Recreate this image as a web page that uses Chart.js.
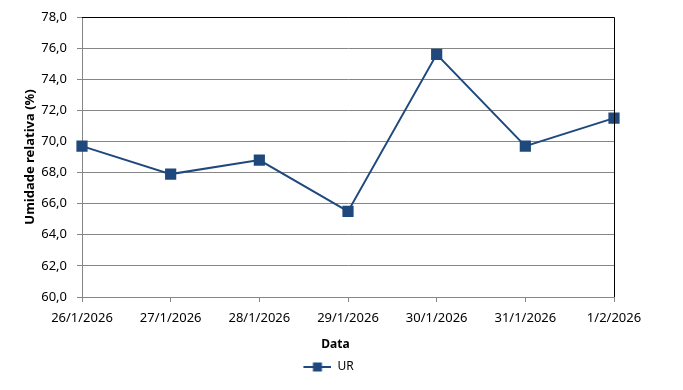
<!DOCTYPE html>
<html>
<head>
    <meta charset="utf-8">
    <style>
        body { margin: 0; background: #fff; }
        #chartContainer { width: 683px; height: 390px; }
    </style>
</head>
<body>
    <div id="chartContainer">
        <canvas id="myChart" width="683" height="390"></canvas>
    </div>

<script src="https://cdn.jsdelivr.net/npm/chart.js@4.4.0/dist/chart.umd.min.js"></script>
<script>
    // data
    var dates = ['26/1/2026', '27/1/2026', '28/1/2026', '29/1/2026', '30/1/2026', '31/1/2026', '1/2/2026'];
    var urValues = [69.7, 67.9, 68.8, 65.5, 75.6, 69.7, 71.5];
    var yTicks = [60, 62, 64, 66, 68, 70, 72, 74, 76, 78];

    var lineColor = '#1F497D';
    var gridColor = '#868686';

    // legend symbol: short line with a square in the middle
    // (left part transparent so the legend sits where the original one does)
    var legendIcon = document.createElement('canvas');
    legendIcon.width = 53;
    legendIcon.height = 10;
    var ic = legendIcon.getContext('2d');
    ic.strokeStyle = lineColor;
    ic.lineWidth = 2;
    ic.beginPath();
    ic.moveTo(25, 5);
    ic.lineTo(53, 5);
    ic.stroke();
    ic.fillStyle = lineColor;
    ic.fillRect(34.5, 0.5, 9, 9);

    // black border on top and right of the plot area
    var frame = {
        id: 'frame',
        afterDatasetsDraw: function (chart) {
            var a = chart.chartArea, c = chart.ctx;
            c.save();
            c.strokeStyle = '#000';
            c.lineWidth = 1;
            c.beginPath();
            c.moveTo(a.left, a.top + 0.5);
            c.lineTo(a.right + 0.5, a.top + 0.5);
            c.lineTo(a.right + 0.5, a.bottom);
            c.stroke();
            c.restore();
        }
    };

    var ctx = document.getElementById('myChart').getContext('2d');
    var myChart = new Chart(ctx, {
        type: 'line',
        data: {
            labels: dates,
            datasets: [{
                label: 'UR',
                data: urValues,
                borderColor: lineColor,
                backgroundColor: lineColor,
                borderWidth: 2,
                pointStyle: 'rect',
                pointRadius: 6.5,
                pointHoverRadius: 6.5,
                tension: 0,
                clip: false
            }]
        },
        options: {
            responsive: false,
            animation: false,
            events: [],
            layout: { padding: { top: 17, right: 69, left: 18, bottom: 7 } },
            plugins: {
                legend: {
                    position: 'bottom',
                    labels: {
                        usePointStyle: true,
                        pointStyleWidth: 53,
                        padding: 5,
                        color: '#000',
                        font: { family: 'Noto Sans', size: 12 },
                        generateLabels: function (chart) {
                            var items = Chart.defaults.plugins.legend.labels.generateLabels(chart);
                            items.forEach(function (it) { it.pointStyle = legendIcon; });
                            return items;
                        }
                    }
                },
                tooltip: { enabled: false }
            },
            scales: {
                x: {
                    offset: false,
                    afterFit: function (s) { s.height = 59; },
                    grid: { drawOnChartArea: false, color: gridColor, tickLength: 5 },
                    border: { color: gridColor },
                    ticks: {
                        color: '#000', padding: 8, maxRotation: 0, autoSkip: false,
                        font: { family: 'Noto Sans', size: 13 }
                    },
                    title: {
                        display: true, text: 'Data        ', color: '#000',
                        font: { family: 'Noto Sans', size: 12, weight: 'bold' }
                    }
                },
                y: {
                    min: 60,
                    max: 78,
                    afterFit: function (s) { s.width = 64; },
                    afterBuildTicks: function (s) {
                        s.ticks = yTicks.map(function (v) { return { value: v }; });
                    },
                    grid: { color: gridColor, tickLength: 5 },
                    border: { color: gridColor },
                    ticks: {
                        color: '#000', padding: 10,
                        font: { family: 'Noto Sans', size: 13, lineHeight: 1 },
                        callback: function (v) { return v.toFixed(1).replace('.', ','); }
                    },
                    title: {
                        display: true, text: 'Umidade relativa (%)', color: '#000',
                        font: { family: 'Noto Sans', size: 13, weight: 'bold' }
                    }
                }
            }
        },
        plugins: [frame]
    });
</script>
</body>
</html>
